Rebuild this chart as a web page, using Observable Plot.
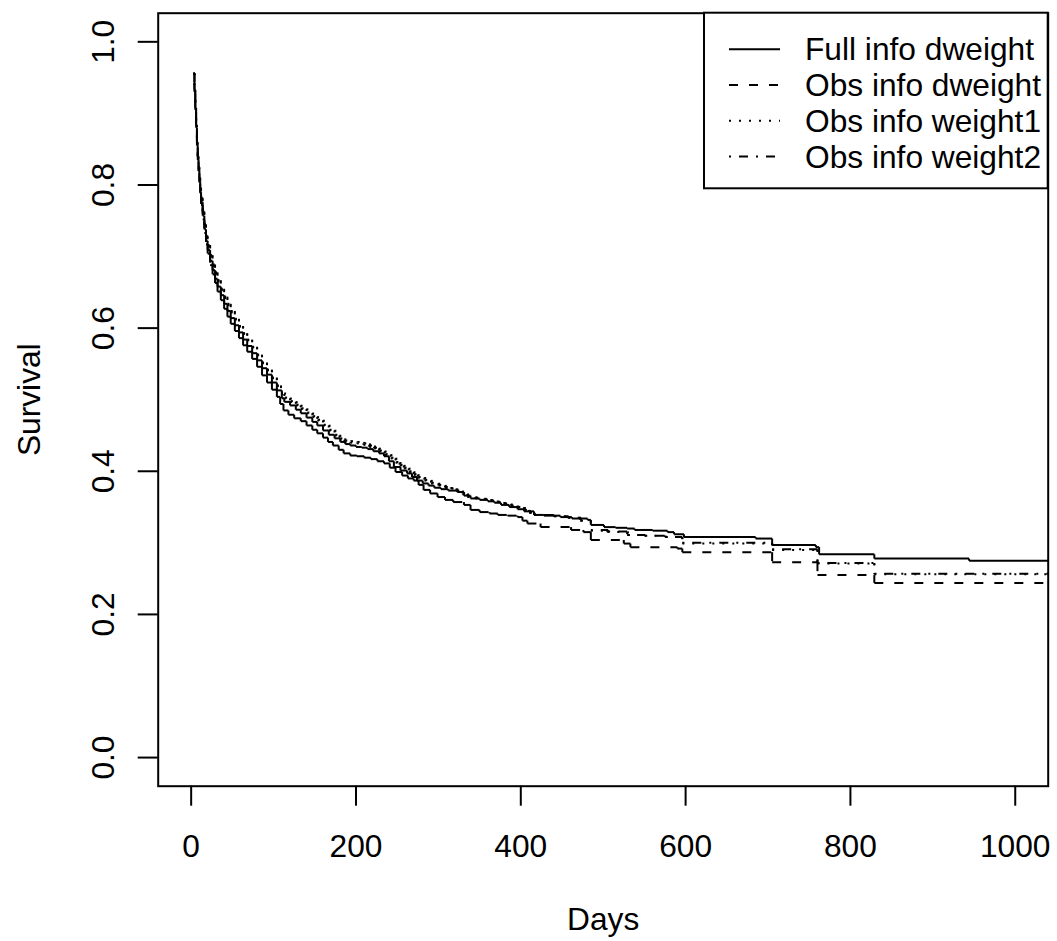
<!DOCTYPE html>
<html>
<head>
<meta charset="utf-8">
<script src="https://cdn.jsdelivr.net/npm/d3@7"></script>
<script src="https://cdn.jsdelivr.net/npm/@observablehq/plot@0.6"></script>
<style>
  html, body { margin: 0; padding: 0; background: white; }
  #chart svg { display: block; }
</style>
</head>
<body>
<div id="chart"></div>
<script>
// ---------- data ----------
const seriesLabels = ["Full info dweight", "Obs info dweight", "Obs info weight1", "Obs info weight2"];
const xTicks = [0, 200, 400, 600, 800, 1000];
const yTicks = [0, 0.2, 0.4, 0.6, 0.8, 1.0];
const xLabel = "Days";
const yLabel = "Survival";
const lastTime = 1040;

const fullTime = [3,4,5,6,7,8,9,10,11,12,14,16,18,20,23,26,29,32,36,40,44,48,53,58,63,68,74,80,86,92,98,104,110,113,120,127,133,140,147,153,160,167,174,181,187,193,200,207,214,221,228,234,240,246,254,262,268,274,281,288,295,303,312,323,331,339,350,360,368,376,386,396,404,416,428,448,462,481,485,501,515,529,538,560,578,586,598,685,705,758,762,829,944];
const fullSurv = [0.956,0.93,0.905,0.88,0.855,0.835,0.82,0.805,0.79,0.776,0.757,0.738,0.722,0.709,0.694,0.681,0.669,0.658,0.646,0.634,0.624,0.614,0.604,0.594,0.584,0.575,0.565,0.555,0.544,0.535,0.524,0.513,0.502,0.497,0.492,0.486,0.481,0.475,0.469,0.464,0.457,0.451,0.446,0.441,0.438,0.436,0.434,0.433,0.431,0.428,0.425,0.421,0.414,0.406,0.401,0.397,0.392,0.387,0.383,0.380,0.377,0.375,0.373,0.371,0.366,0.362,0.360,0.358,0.356,0.353,0.350,0.347,0.344,0.339,0.338,0.336,0.334,0.332,0.325,0.322,0.321,0.320,0.318,0.317,0.315,0.312,0.308,0.306,0.297,0.294,0.284,0.278,0.275];

const obsTime = [3,4,5,6,7,8,9,10,11,12,14,16,18,20,23,26,29,32,36,40,44,48,53,58,63,68,74,80,86,92,98,104,108,112,118,125,133,140,147,153,160,166,172,179,185,193,201,210,218,226,234,241,248,256,263,270,276,282,290,299,308,318,331,339,350,362,372,384,396,402,408,424,461,476,485,525,533,590,596,705,760,829];
const obsSurv = [0.956,0.928,0.902,0.877,0.852,0.832,0.816,0.801,0.786,0.772,0.752,0.733,0.717,0.704,0.688,0.675,0.663,0.651,0.639,0.627,0.616,0.606,0.596,0.586,0.576,0.567,0.557,0.546,0.534,0.524,0.514,0.504,0.494,0.485,0.479,0.474,0.470,0.464,0.458,0.453,0.447,0.441,0.436,0.430,0.425,0.422,0.421,0.419,0.417,0.414,0.411,0.405,0.399,0.394,0.390,0.387,0.381,0.374,0.369,0.364,0.360,0.357,0.353,0.346,0.343,0.341,0.339,0.338,0.336,0.331,0.327,0.322,0.318,0.315,0.304,0.299,0.294,0.292,0.287,0.273,0.255,0.244];

const w1Time = [3,4,5,6,7,8,9,10,11,12,14,16,18,20,23,26,29,32,36,40,44,48,53,58,63,68,74,80,86,92,98,104,109,113,120,127,133,140,147,153,160,167,174,180,186,193,201,209,216,222,228,235,242,248,253,258,264,270,275,283,291,300,308,315,322,329,335,345,356,364,372,380,388,396,404,410,416,440,457,472,485,505,529,550,575,596,705,760,829];
const w1Surv = [0.956,0.932,0.907,0.883,0.858,0.838,0.823,0.808,0.794,0.78,0.761,0.743,0.727,0.714,0.70,0.687,0.676,0.665,0.653,0.642,0.632,0.622,0.612,0.602,0.592,0.583,0.573,0.562,0.551,0.541,0.530,0.519,0.508,0.502,0.497,0.492,0.487,0.481,0.476,0.471,0.464,0.457,0.450,0.444,0.441,0.440,0.439,0.437,0.434,0.432,0.428,0.423,0.418,0.412,0.408,0.404,0.399,0.395,0.391,0.387,0.383,0.380,0.377,0.376,0.372,0.368,0.364,0.362,0.361,0.359,0.357,0.354,0.352,0.350,0.346,0.342,0.339,0.337,0.335,0.331,0.317,0.315,0.311,0.310,0.308,0.299,0.290,0.271,0.256];

const w2Time = [3,4,5,6,7,8,9,10,11,12,14,16,18,20,23,26,29,32,36,40,44,48,53,58,63,68,74,80,86,92,98,104,109,114,121,128,134,141,148,154,161,168,175,181,187,194,202,210,217,223,229,236,243,249,254,259,265,271,276,284,292,301,309,316,323,330,336,346,357,365,373,381,389,397,405,411,417,441,458,473,485,506,530,551,576,596,705,760,829];
const w2Surv = [0.956,0.933,0.908,0.884,0.86,0.84,0.825,0.81,0.796,0.782,0.763,0.745,0.729,0.716,0.702,0.689,0.678,0.667,0.655,0.644,0.634,0.624,0.613,0.603,0.593,0.584,0.574,0.563,0.552,0.542,0.531,0.520,0.510,0.503,0.498,0.493,0.488,0.482,0.477,0.472,0.465,0.458,0.451,0.446,0.443,0.442,0.441,0.439,0.436,0.433,0.429,0.424,0.419,0.413,0.409,0.405,0.400,0.396,0.392,0.388,0.384,0.381,0.378,0.376,0.373,0.369,0.365,0.363,0.361,0.359,0.357,0.355,0.352,0.350,0.346,0.342,0.339,0.337,0.335,0.331,0.318,0.316,0.311,0.310,0.308,0.300,0.291,0.272,0.257];

// ---------- styles ----------
const dashes = [null, "9,11", "2,8", "2,8,9,8"];
const LW = 2;
const FS = 31.7;

// step function -> separate segments (dash pattern restarts per segment, as in R)
function stepSegments(times, surv, end) {
  const segs = [];
  for (let i = 0; i < times.length; i++) {
    const t1 = i + 1 < times.length ? times[i + 1] : end;
    segs.push({x1: times[i], y1: surv[i], x2: t1, y2: surv[i]});
    if (i + 1 < times.length) segs.push({x1: t1, y1: surv[i], x2: t1, y2: surv[i + 1]});
  }
  return segs;
}

const series = [
  stepSegments(fullTime, fullSurv, lastTime),
  stepSegments(obsTime, obsSurv, lastTime),
  stepSegments(w1Time, w1Surv, lastTime),
  stepSegments(w2Time, w2Surv, lastTime)
];

const fmtY = d3.format(".1f");

const curveMarks = series.map((segs, k) => Plot.link(segs, {
  x1: "x1", y1: "y1", x2: "x2", y2: "y2",
  stroke: "black", strokeWidth: LW,
  strokeDasharray: dashes[k] ?? undefined,
  strokeLinecap: "butt"
}));

const chart = Plot.plot({
  width: 1057,
  height: 941,
  marginLeft: 157.7,
  marginRight: 9.3,
  marginTop: 12.7,
  marginBottom: 155.3,
  style: {fontFamily: "'Liberation Sans', Arial, Helvetica, sans-serif", fontSize: FS + "px", background: "white", color: "black"},
  x: {domain: [-40, 1040]},
  y: {domain: [-0.04, 1.04]},
  marks: [
    ...curveMarks,
    Plot.frame({stroke: "black", strokeWidth: LW}),
    Plot.axisX({ticks: xTicks, tickSize: 20, tickPadding: 28, tickFormat: d3.format("d"), label: null, fontSize: FS, strokeWidth: LW}),
    Plot.axisY({ticks: yTicks, tickSize: 20, tickFormat: () => "", label: null, strokeWidth: LW}),
    Plot.text(yTicks, {y: d => d, text: d => fmtY(d), frameAnchor: "left", dx: -44.7, rotate: -90, lineAnchor: "bottom", textAnchor: "middle", fontSize: FS, fill: "black"}),
    Plot.text([xLabel], {text: d => d, frameAnchor: "bottom", dy: 143.8, lineAnchor: "bottom", fontSize: FS, fill: "black"}),
    Plot.text([yLabel], {text: d => d, frameAnchor: "left", dx: -118.7, rotate: -90, lineAnchor: "bottom", textAnchor: "middle", fontSize: FS, fill: "black"})
  ]
});

// ---------- legend (R-style boxed legend, top-right) ----------
const svg = d3.select(chart);
const lg = svg.append("g").attr("class", "legend").attr("text-anchor", "start");
lg.append("rect")
  .attr("x", 704).attr("y", 12.7)
  .attr("width", 1047.7 - 704).attr("height", 188.3 - 12.7)
  .attr("fill", "white").attr("stroke", "black").attr("stroke-width", LW);
const rowY = [49.3, 85, 120.8, 156.6];
seriesLabels.forEach((lab, i) => {
  const ln = lg.append("line")
    .attr("x1", 729).attr("x2", 780)
    .attr("y1", rowY[i]).attr("y2", rowY[i])
    .attr("stroke", "black").attr("stroke-width", LW);
  if (dashes[i]) ln.attr("stroke-dasharray", dashes[i]);
  lg.append("text")
    .attr("x", 805).attr("y", rowY[i]).attr("dy", "0.35em")
    .attr("text-anchor", "start")
    .attr("font-size", FS).attr("fill", "black")
    .text(lab);
});

document.getElementById("chart").appendChild(chart);
</script>
</body>
</html>
